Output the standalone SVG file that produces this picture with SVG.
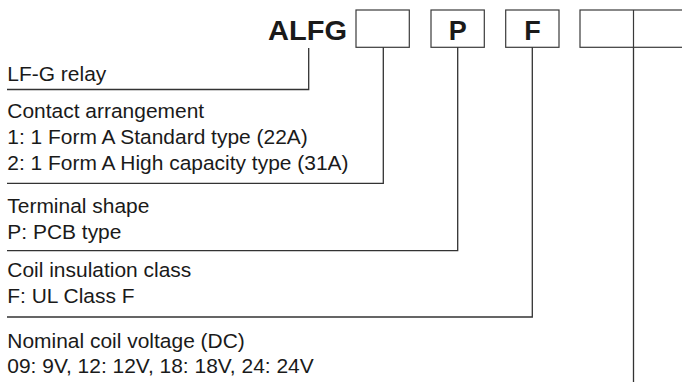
<svg xmlns="http://www.w3.org/2000/svg" width="682" height="383" viewBox="0 0 682 383">
  <style>
    .box { fill: #ffffff; stroke: #3a3a3a; stroke-width: 1.2; }
    .conn { fill: none; stroke: #333333; stroke-width: 1.3; }
    .code { font-family: "Liberation Sans", Arial, sans-serif; font-weight: bold; fill: #1a1a1a; }
    .lbl { font-family: "Liberation Sans", Arial, sans-serif; font-size: 19.5px; fill: #1a1a1a; }
  </style>
  <rect x="0" y="0" width="682" height="383" fill="#ffffff"/>

  <g id="code-prefix">
    <text class="code" x="347" y="40" font-size="28" text-anchor="end" textLength="79" lengthAdjust="spacingAndGlyphs">ALFG</text>
  </g>
  <g id="box-contact">
    <rect class="box" x="356" y="10" width="53.3" height="37.3"/>
  </g>
  <g id="box-terminal">
    <rect class="box" x="431" y="10" width="53.3" height="37.3"/>
    <text class="code" x="457.7" y="40" font-size="27" text-anchor="middle">P</text>
  </g>
  <g id="box-insulation">
    <rect class="box" x="505.7" y="10" width="53.3" height="37.3"/>
    <text class="code" x="532.5" y="40" font-size="27" text-anchor="middle">F</text>
  </g>
  <g id="box-voltage">
    <rect class="box" x="580" y="10" width="110" height="37.3"/>
    <line class="box" x1="633.5" y1="10" x2="633.5" y2="47.3"/>
  </g>

  <g id="connectors">
    <polyline class="conn" points="308.7,48 308.7,89.5 7,89.5"/>
    <polyline class="conn" points="383.3,47.3 383.3,183.3 7,183.3"/>
    <polyline class="conn" points="457.7,47.3 457.7,250.7 7,250.7"/>
    <polyline class="conn" points="532.3,47.3 532.3,317 7,317"/>
    <line class="conn" x1="633.5" y1="47.3" x2="633.5" y2="382"/>
  </g>

  <g transform="scale(1.075 1)">
    <g id="label-relay">
      <text class="lbl" x="6.8" y="81">LF-G relay</text>
    </g>
    <g id="label-contact">
      <text class="lbl" x="6.8" y="118.5">Contact arrangement</text>
      <text class="lbl" x="6.8" y="144.2">1: 1 Form A Standard type (22A)</text>
      <text class="lbl" x="6.8" y="170">2: 1 Form A High capacity type (31A)</text>
    </g>
    <g id="label-terminal">
      <text class="lbl" x="6.8" y="213.3">Terminal shape</text>
      <text class="lbl" x="6.8" y="239">P: PCB type</text>
    </g>
    <g id="label-insulation">
      <text class="lbl" x="6.8" y="277.3">Coil insulation class</text>
      <text class="lbl" x="6.8" y="303.3">F: UL Class F</text>
    </g>
    <g id="label-voltage">
      <text class="lbl" x="6.8" y="348.3">Nominal coil voltage (DC)</text>
      <text class="lbl" x="6.8" y="373.3">09: 9V, 12: 12V, 18: 18V, 24: 24V</text>
    </g>
  </g>
</svg>
